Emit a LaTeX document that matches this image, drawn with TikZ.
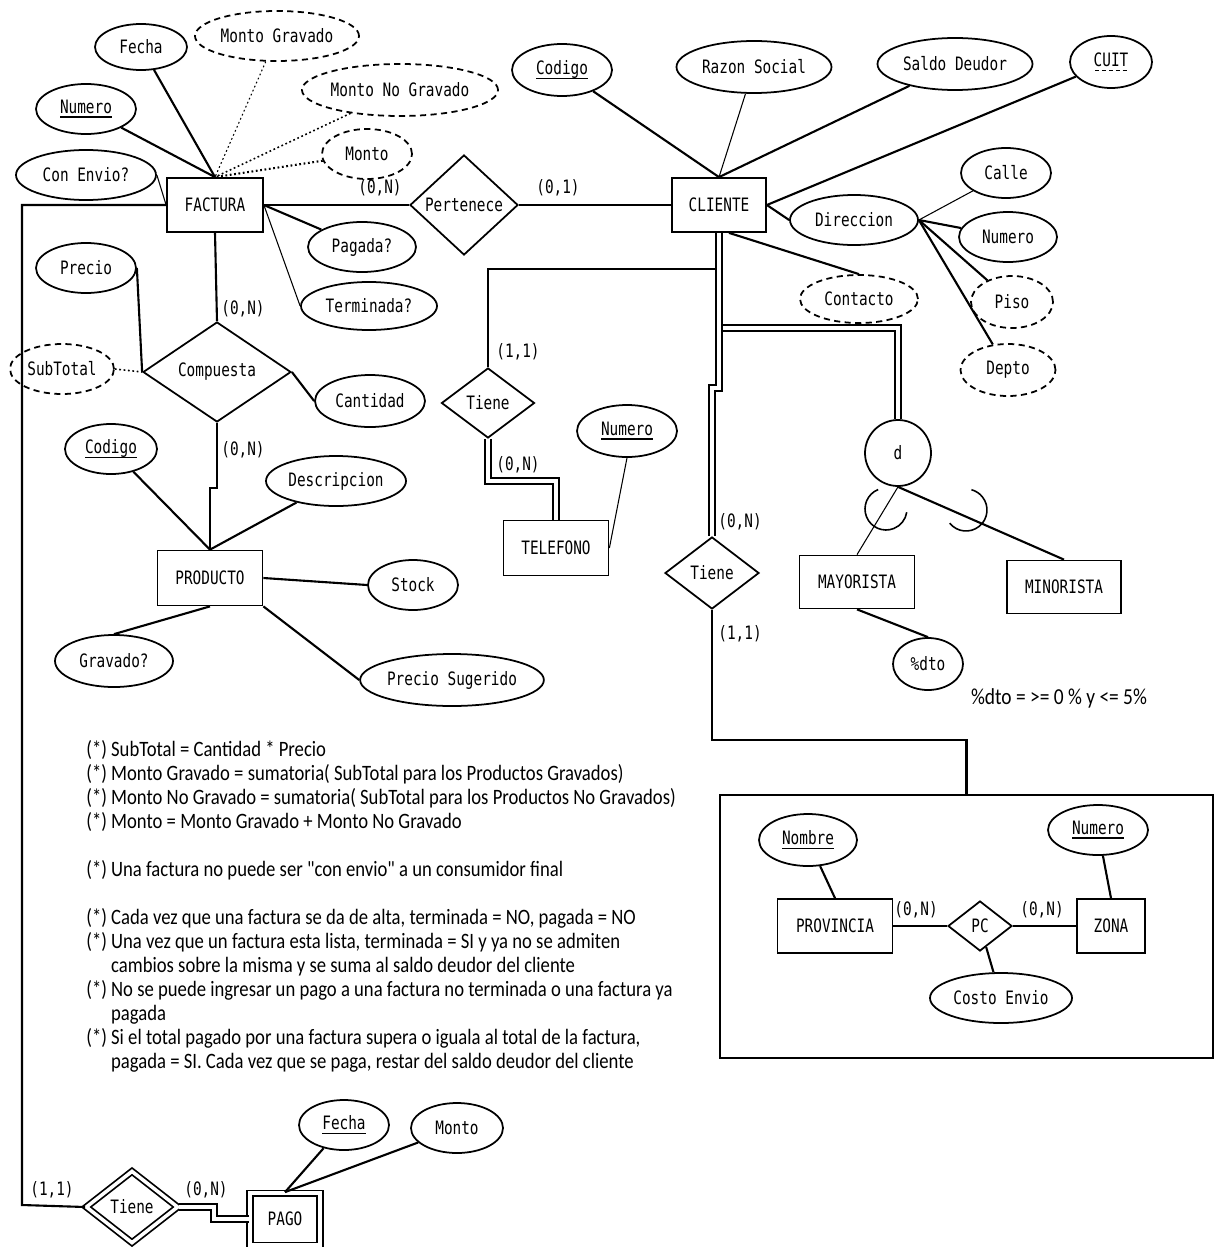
\documentclass[tikz,border=0pt]{standalone}
\usepackage{fontspec}
\usetikzlibrary{shapes.geometric, calc}
\newfontfamily\erfont[FakeStretch=0.78]{DejaVu Sans Mono}
\newfontfamily\notefont[FakeStretch=0.85]{Carlito}
\newcommand{\keyul}[1]{\setbox0\hbox{#1}\rlap{\vrule height -1.7pt depth 2.6pt width\wd0}\box0}
\newcommand{\dashul}[1]{\setbox0\hbox{#1}\rlap{\hbox to\wd0{\xleaders\hbox to 3.6pt{\hss\vrule height -1.7pt depth 2.6pt width 2.2pt\hss}\hfill}}\box0}

\tikzset{
  wd/.style={minimum width=#1*0.02cm},
  ht/.style={minimum height=#1*0.02cm},
  erlabel/.style={font=\erfont\fontsize{10.5}{12}\selectfont},
  notelabel/.style={font=\notefont\fontsize{12.5}{13.66}\selectfont},
  ent/.style={draw, line width=1pt, inner sep=0pt, erlabel},
  attr/.style={draw, ellipse, line width=1pt, inner sep=0pt, erlabel},
  dattr/.style={attr, dash pattern=on 3.5pt off 2.5pt},
  rel/.style={draw, diamond, line width=1pt, inner sep=0pt, erlabel},
  card/.style={inner sep=0pt, erlabel},
  lnk/.style={line width=1.2pt},
  fine/.style={line width=0.6pt},
  dlnk/.style={double, double distance=2.5pt, line width=0.9pt},
  dotlnk/.style={line width=0.9pt, dash pattern=on 1pt off 1.5pt}
}

\begin{document}
\begin{tikzpicture}[x=0.02cm, y=-0.02cm]
  \useasboundingbox (0,0) rectangle (1217,1247);

  % FACTURA and its attributes
  \node[ent, wd=96, ht=54] (fact) at (215,205) {FACTURA};
  \node[attr, wd=92, ht=46] (fecha) at (141,47) {Fecha};
  \node[dattr, wd=164, ht=50] (mgrav) at (277,36) {Monto Gravado};
  \node[dattr, wd=190, ht=52] (mnograv) at (400,90) {Monto No Gravado};
  \node[attr, wd=100, ht=50] (fnum) at (86,109) {\keyul{Numero}};
  \node[dattr, wd=90, ht=50] (monto) at (367,154) {Monto};
  \node[attr, wd=140, ht=50] (envio) at (86,175) {Con Envio?};
  \node[attr, wd=108, ht=50] (pagada) at (362,247) {Pagada?};
  \node[attr, wd=136, ht=48] (term) at (369,306) {Terminada?};

  \draw[lnk] (fecha) -- (fact.north);
  \draw[lnk] (fnum) -- (fact.north);
  \draw[dotlnk, line width=0.6pt] (mgrav) -- (fact.north);
  \draw[dotlnk] (mnograv) -- (fact.north);
  \draw[dotlnk, line width=1.2pt] (monto) -- (fact.north);
  \draw[fine] (envio.east) -- (fact.west);
  \draw[lnk] (fact.east) -- (pagada);
  \draw[fine] (fact.east) -- (term.west);

  % Pertenece
  \node[rel, wd=108, ht=100] (pert) at (464,205) {Pertenece};
  \draw[lnk] (fact) -- (pert);
  \node[card] (c1) at (380,188) {(0,N)};

  % CLIENTE and its attributes
  \node[ent, wd=94, ht=54] (cli) at (719,205) {CLIENTE};
  \draw[lnk] (pert) -- (cli);
  \node[card] (c2) at (558,188) {(0,1)};
  \node[attr, wd=100, ht=52] (ccod) at (562,70) {\keyul{Codigo}};
  \node[attr, wd=155, ht=52] (razon) at (754,67) {Razon Social};
  \node[attr, wd=155, ht=52] (saldo) at (955,64) {Saldo Deudor};
  \node[attr, wd=82, ht=52] (cuit) at (1111,62) {\dashul{CUIT}};
  \node[attr, wd=128, ht=50] (dir) at (854,220) {Direccion};
  \node[attr, wd=90, ht=50] (calle) at (1006,173) {Calle};
  \node[attr, wd=98, ht=50] (dnum) at (1008,237) {Numero};
  \node[dattr, wd=82, ht=52] (piso) at (1012,302) {Piso};
  \node[dattr, wd=95, ht=52] (depto) at (1008,370) {Depto};
  \node[dattr, wd=118, ht=48] (contacto) at (859,299) {Contacto};

  \draw[lnk] (ccod) -- (cli.north);
  \draw[fine] (razon) -- (cli.north);
  \draw[lnk] (saldo) -- (cli.north);
  \draw[lnk] (cuit) -- (cli.east);
  \draw[lnk] (cli.east) -- (dir.west);
  \draw[fine] (dir.east) -- (calle);
  \draw[lnk] (dir.east) -- (dnum);
  \draw[lnk] (dir.east) -- (piso);
  \draw[lnk] (dir.east) -- (depto);
  \draw[lnk] ($(cli.south)+(10,0)$) -- (contacto.north);

  % Compuesta and PRODUCTO
  \node[rel, wd=148, ht=100] (comp) at (217,372) {Compuesta};
  \node[attr, wd=100, ht=50] (precio) at (86,268) {Precio};
  \node[dattr, wd=104, ht=50] (subtot) at (62,369) {SubTotal};
  \node[attr, wd=110, ht=52] (cant) at (370,401) {Cantidad};
  \draw[lnk] (fact.south) -- (comp.north);
  \node[card] (c3) at (243,309) {(0,N)};
  \draw[lnk] (precio.east) -- (comp.west);
  \draw[dotlnk] (subtot.east) -- (comp.west);
  \draw[lnk] (comp.east) -- (cant.west);

  \node[ent, wd=105, ht=55] (prod) at (210,578) {PRODUCTO};
  \node[attr, wd=92, ht=50] (pcod) at (111,449) {\keyul{Codigo}};
  \node[attr, wd=140, ht=50] (desc) at (336,481) {Descripcion};
  \node[attr, wd=90, ht=50] (stock) at (413,585) {Stock};
  \node[attr, wd=118, ht=52] (grav) at (114,661) {Gravado?};
  \node[attr, wd=175, ht=52] (psug) at (452,680) {Precio Sugerido};
  \draw[lnk] (comp.south) -- (217,488) -| (prod.north);
  \node[card] (c4) at (243,450) {(0,N)};
  \draw[lnk] (pcod) -- (prod.north);
  \draw[lnk] (desc) -- (prod.north);
  \draw[lnk] (prod.east) -- (stock.west);
  \draw[lnk] (grav.north) -- (prod.south);
  \draw[lnk] (prod.south east) -- (psug.west);

  % TELEFONO
  \node[rel, wd=93, ht=70] (ttel) at (488,403) {Tiene};
  \node[ent, wd=105, ht=55] (tel) at (556,548) {TELEFONO};
  \node[attr, wd=100, ht=52] (tnum) at (627,431) {\keyul{Numero}};
  \draw[lnk] (cli.south) -- ++(0,36) -| (ttel.north);
  \node[card] (c5) at (518,352) {(1,1)};
  \draw[dlnk] (ttel.south) -- ++(0,42) -| (tel.north);
  \node[card] (c6) at (518,465) {(0,N)};
  \draw[fine] (tnum.south) -- (tel.east);

  % especializacion
  \node[draw, circle, line width=1pt, minimum size=66*0.02cm, erlabel] (disj) at (898,453) {d};
  \node[ent, wd=115, ht=53] (mayo) at (857,582) {MAYORISTA};
  \node[ent, wd=114, ht=53] (mino) at (1064,587) {MINORISTA};
  \node[attr, wd=70, ht=52] (dto) at (928,664) {\%dto};
  \draw[dlnk] (cli.south) ++(0,95) -| (disj.north);
  \draw[fine] (disj.south) -- (mayo.north);
  \draw[lnk] (disj.south) -- (mino.north);
  \draw[line width=0.9pt] (886,509) ++(112:0.42cm) arc[start angle=112, end angle=351, radius=0.42cm];
  \draw[line width=0.9pt] (966,510) ++(219:0.42cm) arc[start angle=219, end angle=435, radius=0.42cm];
  \draw[lnk] (mayo.south) -- (dto.north);
  \node[font=\notefont\fontsize{13}{14}\selectfont] (dtonote) at (1059,698) {\%dto = >= 0 \% y <= 5\%};

  % zona de envio
  \node[rel, wd=94, ht=72] (tdir) at (712,573) {Tiene};
  \draw[dlnk] (cli.south) -- ++(0,155) -| (tdir.north);
  \node[card] (c7) at (740,522) {(0,N)};
  \node[card] (c8) at (740,634) {(1,1)};
  \node[draw, line width=1pt, wd=493, ht=263] (agg) at (966.5,926.5) {};
  \draw[lnk] (tdir.south) -- ++(0,130) -| (agg.north);

  \node[ent, wd=115, ht=54] (prov) at (835,926) {PROVINCIA};
  \node[rel, wd=64, ht=50] (pc) at (980,926) {PC};
  \node[ent, wd=68, ht=54] (zona) at (1111,926) {ZONA};
  \node[attr, wd=98, ht=52] (nombre) at (808,840) {\keyul{Nombre}};
  \node[attr, wd=100, ht=50] (znum) at (1098,830) {\keyul{Numero}};
  \node[attr, wd=142, ht=50] (costo) at (1001,998) {Costo Envio};
  \draw[lnk] (prov.east) -- (pc.west);
  \draw[lnk] (pc.east) -- (zona.west);
  \node[card] (c9) at (916,910) {(0,N)};
  \node[card] (c10) at (1042,910) {(0,N)};
  \draw[lnk] (nombre) -- (prov.north);
  \draw[lnk] (znum) -- (zona.north);
  \draw[lnk] (pc) -- (costo);

  % PAGO
  \node[rel, double, double distance=2pt, wd=92, ht=72] (tpago) at (132,1207) {Tiene};
  \node[ent, double, double distance=2pt, wd=70, ht=52] (pago) at (285,1219) {PAGO};
  \node[attr, wd=90, ht=50] (pfecha) at (344,1125) {\keyul{Fecha}};
  \node[attr, wd=92, ht=50] (pmonto) at (457,1128) {Monto};
  \draw[lnk] (fact.west) -| (22,1205) -- (tpago.west);
  \node[card] (c11) at (52,1190) {(1,1)};
  \draw[dlnk] (tpago.east) -- ++(35,0) |- (pago.west);
  \node[card] (c12) at (206,1190) {(0,N)};
  \draw[lnk] (pfecha) -- (pago.north);
  \draw[lnk] (pmonto) -- (pago.north);

  % notas
  \node[anchor=north west, align=left, inner sep=0pt, notelabel] (notes) at (86,740) {%
    (*) SubTotal = Cantidad * Precio\\
    (*) Monto Gravado = sumatoria( SubTotal para los Productos Gravados)\\
    (*) Monto No Gravado = sumatoria( SubTotal para los Productos No Gravados)\\
    (*) Monto = Monto Gravado + Monto No Gravado\\[13.66pt]
    (*) Una factura no puede ser "con envio" a un consumidor final\\[13.66pt]
    (*) Cada vez que una factura se da de alta, terminada = NO, pagada = NO\\
    (*) Una vez que un factura esta lista, terminada = SI y ya no se admiten\\
    \phantom{(*) }cambios sobre la misma y se suma al saldo deudor del cliente\\
    (*) No se puede ingresar un pago a una factura no terminada o una factura ya\\
    \phantom{(*) }pagada\\
    (*) Si el total pagado por una factura supera o iguala al total de la factura,\\
    \phantom{(*) }pagada = SI. Cada vez que se paga, restar del saldo deudor del cliente};
\end{tikzpicture}
\end{document}
